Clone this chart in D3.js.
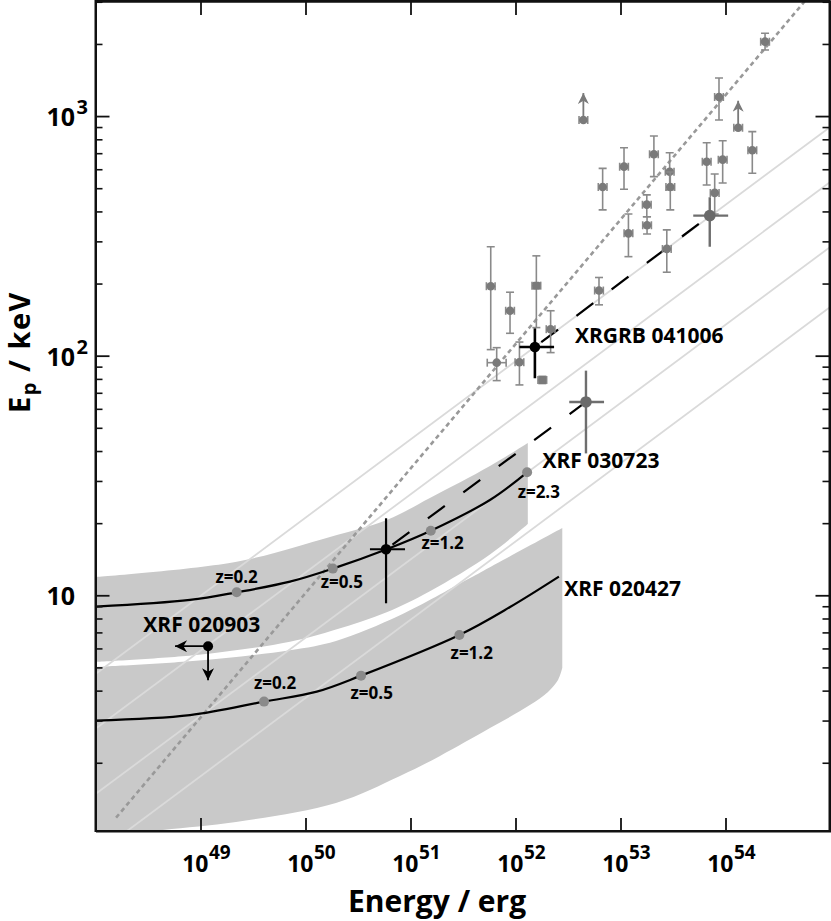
<!DOCTYPE html>
<html><head><meta charset="utf-8">
<script src="https://cdn.jsdelivr.net/npm/d3@7/dist/d3.min.js"></script>
<style>
body{margin:0;background:#fff}
svg{display:block}
text{font-family:"Open Sans","DejaVu Sans",sans-serif;font-weight:700;fill:#000}
</style>
</head><body>
<svg id="c" width="831" height="921"></svg>
<script>
// ---------------- data ----------------
const xTickExps = [49, 50, 51, 52, 53, 54];
const yTickExps = [1, 2, 3];

// GRBs (gray points with error bars)
const grbE    = [2.38e54, 8.67e53, 1.80e54, 6.62e53, 9.40e53, 7.89e53, 2.08e53, 1.08e53, 6.76e52, 2.94e53, 2.98e53, 1.78e53, 1.79e53, 1.19e53, 2.76e53, 5.81e51, 1.58e52, 8.87e51, 2.16e52, 6.62e51, 1.09e52, 1.80e52, 6.24e52];
const grbEp   = [2045, 1201, 720, 645, 658, 478, 693, 615, 506, 586, 506, 427, 350, 324, 279, 195, 196, 154, 129, 93.5, 93.9, 79.2, 187];
const grbEpLo = [1888, 963, 577, 516, 526, 390, 559, 495, 406, 492, 406, 380, 322, 259, 223, 106, 131, 124, 103, 78.7, 75.5, 76.5, 163];
const grbEpHi = [2216, 1442, 861, 774, 789, 573, 826, 738, 605, 703, 584, 469, 380, 390, 335, 285, 261, 184, 154, 108, 114, 82, 212];
const grbEfac = [1.1, 1.1, 1.1, 1.1, 1.1, 1.1, 1.1, 1.1, 1.1, 1.1, 1.1, 1.1, 1.1, 1.1, 1.1, 1.1, 1.1, 1.1, 1.1, 1.23, 1.1, 1.1, 1.1];
const grbSquare = [0,0,0,0,0,0,0,0,0,0,0,0,0,0,0,0,1,0,0,0,0,1,0];

// GRBs with lower limits on Ep
const limE  = [4.43e52, 1.32e54];
const limEp = [963, 894];

// larger dark-gray points (with cross error bars)
const bigE   = [7.08e53, 4.69e52];
const bigEp  = [384, 64.1];
const bigELo = [4.93e53, 3.25e52];
const bigEHi = [1.06e54, 6.97e52];
const bigEpLo= [285, 39.1];
const bigEpHi= [458, 86.6];

// named bursts (black)
const xrgrbE = 1.53e52, xrgrbEp = 108.7, xrgrbELo = 1.09e52, xrgrbEHi = 2.33e52, xrgrbEpLo = 80.5, xrgrbEpHi = 130;
const x0723E = 5.85e50, x0723Ep = 15.56, x0723ELo = 4.11e50, x0723EHi = 8.87e50, x0723EpLo = 9.26, x0723EpHi = 20.96;
const x0903E = 1.18e49, x0903Ep = 6.13;

// redshift tracks
const track0723 = [[1e48,8.96],[7.94e48,9.56],[2.21e49,10.29],[7.11e49,11.40],[1.82e50,12.92],[5.85e50,15.53],[1.56e51,18.60],[5.71e51,24.99],[1.29e52,32.6]];
const track0427 = [[1e48,3.00],[7.94e48,3.16],[4.03e49,3.60],[1.28e50,3.96],[3.38e50,4.62],[2.92e51,6.83],[8.87e51,8.93],[2.59e52,11.96]];
const z0723E  = [2.21e49, 1.82e50, 1.56e51, 1.29e52];
const z0723Ep = [10.29, 12.92, 18.6, 32.6];
const z0723Lab= ["z=0.2", "z=0.5", "z=1.2", "z=2.3"];
const z0427E  = [4.03e49, 3.38e50, 2.92e51];
const z0427Ep = [3.60, 4.62, 6.83];
const z0427Lab= ["z=0.2", "z=0.5", "z=1.2"];

// uncertainty bands
const band0723Top    = [[1e48,11.92],[2.21e49,13.81],[1.71e50,17.51],[5.93e50,20.62],[1.53e51,25.48],[5.71e51,34.65],[1.31e52,43.22]];
const band0723Bottom = [[1e48,5.27],[9.06e48,5.63],[7.11e49,6.40],[1.95e50,7.20],[5.93e50,8.50],[1.53e51,10.40],[5.71e51,14.8],[1.31e52,19.84]];
const band0427Top    = [[1e48,5.02],[9.06e48,5.33],[7.11e49,5.90],[1.95e50,6.45],[7.94e50,8.25],[3.43e51,11.6],[5.71e51,13.1],[2.79e52,19.10]];
const band0427Bottom = [[1e48,0.971],[4.37e48,1.048],[2.18e49,1.132],[1.95e50,1.359],[7.94e50,1.762],[1.91e51,2.135],[5.71e51,2.79],[1.37e52,3.48],[2.04e52,3.95],[2.54e52,4.43],[2.79e52,4.97]];

// light gray lines (E1,Ep1) -> (E2,Ep2)
const lightE1  = [1e48, 1e48, 1e48, 1e48];
const lightEp1 = [4.69, 2.77, 1.48, 0.828];
const lightE2  = [1e55, 1e55, 1e55, 1e55];
const lightEp2 = [903, 532, 285, 160];

// dotted relation line
const amati = [[1.57e48, 1.18], [5.71e54, 3022]];
// dashed black lines
const dashUpper = [[1.53e52, 108.7], [7.08e53, 384]];
const dashLower = [[5.85e50, 15.56], [4.69e52, 64.1]];

// ---------------- layout ----------------
const L = 95.5, R = 829.5, T = 1, B = 831;
const x = d3.scaleLog().domain([1e48, 1e55]).range([95.5, 830.5]);
const y = d3.scaleLog().domain([1.038, 3022]).range([831, 1]);

const svg = d3.select("#c");
const defs = svg.append("defs");
defs.append("clipPath").attr("id", "clip").append("rect")
  .attr("x", L).attr("y", T).attr("width", R - L).attr("height", B - T);

function marker(id, color, w, h) {
  defs.append("marker").attr("id", id).attr("viewBox", "0 0 10 10")
    .attr("refX", 10).attr("refY", 5).attr("markerWidth", w).attr("markerHeight", h)
    .attr("markerUnits", "userSpaceOnUse").attr("orient", "auto")
    .append("path").attr("d", "M0,0L10,5L0,10L3,5Z").attr("fill", color);
}
marker("ahBlack", "#000", 14, 12);
marker("ahGray", "#7a7a7a", 14, 11);

const g = svg.append("g").attr("clip-path", "url(#clip)");
const lineCR = d3.line().x(d => x(d[0])).y(d => y(d[1])).curve(d3.curveCatmullRom.alpha(0.5));
const lineLin = d3.line().x(d => x(d[0])).y(d => y(d[1]));
function bandPath(top, bottom) {
  return lineCR(top) + lineCR(bottom.slice().reverse()).replace(/^M/, "L") + "Z";
}

// bands
g.append("path").attr("d", bandPath(band0723Top, band0723Bottom)).attr("fill", "#c9c9c9");
g.append("path").attr("d", bandPath(band0427Top, band0427Bottom)).attr("fill", "#c9c9c9");

// light lines
lightE1.forEach((e, i) => {
  g.append("path").attr("d", lineLin([[e, lightEp1[i]], [lightE2[i], lightEp2[i]]]))
    .attr("stroke", "#dadada").attr("stroke-width", 1.8).attr("fill", "none");
});

// dotted line
g.append("path").attr("d", lineLin(amati)).attr("stroke", "#999").attr("stroke-width", 2.6)
  .attr("stroke-dasharray", "4.5,3.5").attr("fill", "none");

// dashed black lines
[dashUpper, dashLower].forEach(d => {
  g.append("path").attr("d", lineLin(d)).attr("stroke", "#000").attr("stroke-width", 2.2)
    .attr("stroke-dasharray", "21,23").attr("stroke-dashoffset", -8).attr("fill", "none");
});

// tracks
[track0723, track0427].forEach(t => {
  g.append("path").attr("d", lineCR(t)).attr("stroke", "#000").attr("stroke-width", 2.2).attr("fill", "none");
});

// z markers and labels
function zMarks(E, Ep, labs, offs) {
  E.forEach((e, i) => {
    g.append("circle").attr("cx", x(e)).attr("cy", y(Ep[i])).attr("r", 5).attr("fill", "#8a8a8a");
    svg.append("text").attr("x", x(e) + offs[i][0]).attr("y", y(Ep[i]) + offs[i][1])
      .attr("text-anchor", "middle").attr("font-size", 17).text(labs[i]);
  });
}
zMarks(z0723E, z0723Ep, z0723Lab, [[0, -9.3], [9, 19.4], [11.8, 18.6], [11.7, 26]]);
zMarks(z0427E, z0427Ep, z0427Lab, [[11, -12.4], [10.7, 23.3], [12.4, 24.3]]);

// gray GRB points
const errCol = "#8a8a8a", ptCol = "#7a7a7a";
grbE.forEach((e, i) => {
  const cx = x(e), cy = y(grbEp[i]);
  const y1 = y(grbEpLo[i]), y2 = y(grbEpHi[i]);
  const xa = x(e / grbEfac[i]), xb = x(e * grbEfac[i]);
  const pg = g.append("g").attr("stroke", errCol).attr("stroke-width", 1.6);
  pg.append("line").attr("x1", cx).attr("x2", cx).attr("y1", y1).attr("y2", y2);
  pg.append("line").attr("x1", cx - 4).attr("x2", cx + 4).attr("y1", y1).attr("y2", y1);
  pg.append("line").attr("x1", cx - 4).attr("x2", cx + 4).attr("y1", y2).attr("y2", y2);
  pg.append("line").attr("x1", xa).attr("x2", xb).attr("y1", cy).attr("y2", cy);
  pg.append("line").attr("x1", xa).attr("x2", xa).attr("y1", cy - 4).attr("y2", cy + 4);
  pg.append("line").attr("x1", xb).attr("x2", xb).attr("y1", cy - 4).attr("y2", cy + 4);
  if (grbSquare[i]) {
    g.append("rect").attr("x", cx - 4).attr("y", cy - 4).attr("width", 8).attr("height", 8).attr("rx", 1.5).attr("fill", ptCol);
  } else {
    g.append("circle").attr("cx", cx).attr("cy", cy).attr("r", 4.3).attr("fill", ptCol);
  }
});

// lower-limit points
limE.forEach((e, i) => {
  const cx = x(e), cy = y(limEp[i]);
  const pg = g.append("g").attr("stroke", errCol).attr("stroke-width", 1.6);
  const xa = x(e / 1.1), xb = x(e * 1.1);
  pg.append("line").attr("x1", xa).attr("x2", xb).attr("y1", cy).attr("y2", cy);
  pg.append("line").attr("x1", xa).attr("x2", xa).attr("y1", cy - 4).attr("y2", cy + 4);
  pg.append("line").attr("x1", xb).attr("x2", xb).attr("y1", cy - 4).attr("y2", cy + 4);
  g.append("line").attr("x1", cx).attr("x2", cx).attr("y1", cy).attr("y2", cy - 27)
    .attr("stroke", "#7a7a7a").attr("stroke-width", 1.8).attr("marker-end", "url(#ahGray)");
  g.append("circle").attr("cx", cx).attr("cy", cy).attr("r", 4.3).attr("fill", ptCol);
});

// big dark-gray points
bigE.forEach((e, i) => {
  const cx = x(e), cy = y(bigEp[i]);
  const pg = g.append("g").attr("stroke", "#6e6e6e").attr("stroke-width", 2.4);
  pg.append("line").attr("x1", x(bigELo[i])).attr("x2", x(bigEHi[i])).attr("y1", cy).attr("y2", cy);
  pg.append("line").attr("x1", cx).attr("x2", cx).attr("y1", y(bigEpLo[i])).attr("y2", y(bigEpHi[i]));
  g.append("circle").attr("cx", cx).attr("cy", cy).attr("r", 5.8).attr("fill", "#6a6a6a");
});

// black crosses
function blackCross(E, Ep, ELo, EHi, EpLo, EpHi, w) {
  const cx = x(E), cy = y(Ep);
  const pg = g.append("g").attr("stroke", "#000").attr("stroke-width", w);
  pg.append("line").attr("x1", x(ELo)).attr("x2", x(EHi)).attr("y1", cy).attr("y2", cy);
  pg.append("line").attr("x1", cx).attr("x2", cx).attr("y1", y(EpLo)).attr("y2", y(EpHi));
  g.append("circle").attr("cx", cx).attr("cy", cy).attr("r", 5.3).attr("fill", "#000");
}
blackCross(xrgrbE, xrgrbEp, xrgrbELo, xrgrbEHi, xrgrbEpLo, xrgrbEpHi, 2.6);
blackCross(x0723E, x0723Ep, x0723ELo, x0723EHi, x0723EpLo, x0723EpHi, 2.2);

// XRF 020903 upper limits
{
  const cx = x(x0903E), cy = y(x0903Ep);
  g.append("line").attr("x1", cx).attr("y1", cy).attr("x2", cx - 33).attr("y2", cy)
    .attr("stroke", "#000").attr("stroke-width", 1.8).attr("marker-end", "url(#ahBlack)");
  g.append("line").attr("x1", cx).attr("y1", cy).attr("x2", cx).attr("y2", cy + 34)
    .attr("stroke", "#000").attr("stroke-width", 1.8).attr("marker-end", "url(#ahBlack)");
  g.append("circle").attr("cx", cx).attr("cy", cy).attr("r", 5).attr("fill", "#000");
}

// burst labels
const lab = (tx, ty, s) => svg.append("text").attr("x", tx).attr("y", ty).attr("font-size", 21).text(s);
lab(x(xrgrbE) + 40, y(xrgrbEp) - 4, "XRGRB 041006");
lab(x(track0723[track0723.length - 1][0]) + 15.4, y(track0723[track0723.length - 1][1]) - 4, "XRF 030723");
lab(x(track0427[track0427.length - 1][0]) + 5.3, y(track0427[track0427.length - 1][1]) + 19, "XRF 020427");
lab(x(x0903E) - 64.7, y(x0903Ep) - 14.6, "XRF 020903");

// ---------------- axes ----------------
const yMajor = yTickExps.map(e => Math.pow(10, e));
const yMinor = y.ticks().filter(v => !yMajor.some(m => Math.abs(m - v) < 1e-9));
const xMajor = xTickExps.map(e => Math.pow(10, e));

function styleAxis(sel, w) {
  sel.selectAll("line").attr("stroke", "#111").attr("stroke-width", w);
  sel.selectAll("path.domain").attr("stroke", "#111").attr("stroke-width", 2);
  sel.selectAll("text").remove();
}
styleAxis(svg.append("g").attr("transform", `translate(${L},0)`)
  .call(d3.axisRight(y).tickValues(yMajor).tickSize(14).tickSizeOuter(0).tickFormat("")), 1.8);
styleAxis(svg.append("g").attr("transform", `translate(${L},0)`)
  .call(d3.axisRight(y).tickValues(yMinor).tickSize(7).tickSizeOuter(0).tickFormat("")), 1.6);
styleAxis(svg.append("g").attr("transform", `translate(${R},0)`)
  .call(d3.axisLeft(y).tickValues(yMajor).tickSize(14).tickSizeOuter(0).tickFormat("")), 1.8);
styleAxis(svg.append("g").attr("transform", `translate(${R},0)`)
  .call(d3.axisLeft(y).tickValues(yMinor).tickSize(7).tickSizeOuter(0).tickFormat("")), 1.6);
styleAxis(svg.append("g").attr("transform", `translate(0,${B})`)
  .call(d3.axisTop(x).tickValues(xMajor).tickSize(13).tickSizeOuter(0).tickFormat("")), 1.8);
styleAxis(svg.append("g").attr("transform", `translate(0,${T})`)
  .call(d3.axisBottom(x).tickValues(xMajor).tickSize(14).tickSizeOuter(0).tickFormat("")), 1.8);
// frame
svg.append("rect").attr("x", L).attr("y", T).attr("width", R - L).attr("height", B - T)
  .attr("fill", "none").attr("stroke", "#111").attr("stroke-width", 2);
svg.append("line").attr("x1", L).attr("x2", R).attr("y1", T).attr("y2", T).attr("stroke", "#111").attr("stroke-width", 3);

// tick labels
xTickExps.forEach((e, i) => {
  const px = x(xMajor[i]);
  svg.append("text").attr("x", px + 8).attr("y", 872.3).attr("text-anchor", "end").attr("font-size", 23).text("10");
  svg.append("text").attr("x", px + 8.5).attr("y", 859).attr("font-size", 19).text(String(e));
});
yTickExps.forEach((e, i) => {
  const py = y(yMajor[i]);
  svg.append("text").attr("x", 75).attr("y", py + 10).attr("text-anchor", "end").attr("font-size", 25).text("10");
  if (e > 1) svg.append("text").attr("x", 76.5).attr("y", py - 2).attr("font-size", 20).text(String(e));
});

// axis titles
svg.append("text").attr("x", 348).attr("y", 911.7).attr("text-anchor", "start").attr("font-size", 30).text("Energy / erg");
const yt = svg.append("text").attr("transform", "translate(30,413) rotate(-90)").attr("text-anchor", "start")
  .attr("font-size", 29).attr("letter-spacing", 1.5);
yt.append("tspan").text("E");
yt.append("tspan").attr("font-size", 20).attr("dy", 6).text("p");
yt.append("tspan").attr("dy", -6).text(" / keV");
</script>
</body></html>
